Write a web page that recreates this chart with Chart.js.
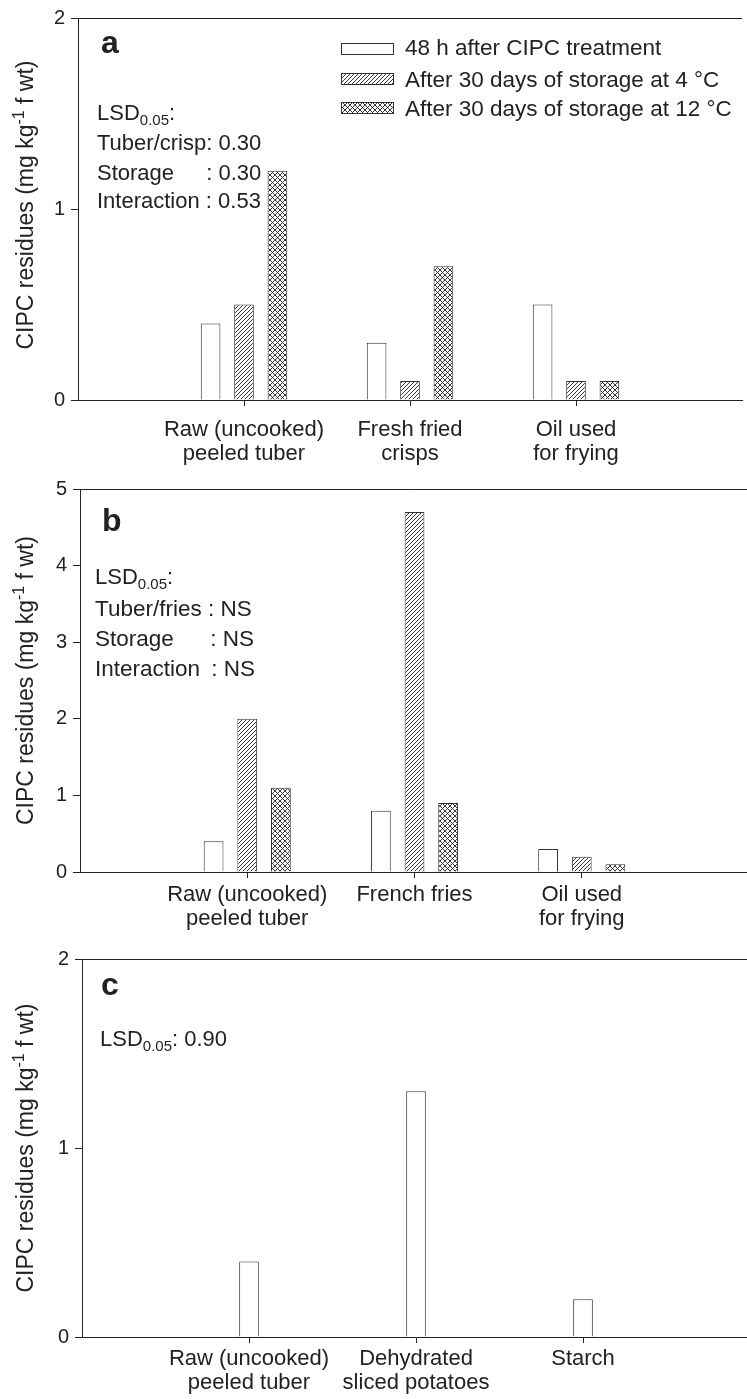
<!DOCTYPE html>
<html>
<head>
<meta charset="utf-8">
<script src="https://cdn.jsdelivr.net/npm/chart.js@4"></script>
<style>
  body { margin: 0; background: #fff; overflow: hidden; }
  .panel { position: relative; width: 754px; }
</style>
</head>
<body>
<div class="panel" style="height:466px"><canvas id="chartA"></canvas></div>
<div class="panel" style="height:467px"><canvas id="chartB"></canvas></div>
<div class="panel" style="height:466px"><canvas id="chartC"></canvas></div>
<script>
// categories per panel
var crispCats = [["Raw (uncooked)", "peeled tuber"], ["Fresh fried", "crisps"], ["Oil used", "for frying"]];
var friesCats = [["Raw (uncooked)", "peeled tuber"], "French fries", ["Oil used", "for frying"]];
var productCats = [["Raw (uncooked)", "peeled tuber"], ["Dehydrated", "sliced potatoes"], "Starch"];

var seriesNames = ["48 h after CIPC treatment", "After 30 days of storage at 4 \u00b0C", "After 30 days of storage at 12 \u00b0C"];

// panel a - crisps
var crisps48h = [0.4, 0.3, 0.5];
var crisps4C = [0.5, 0.1, 0.1];
var crisps12C = [1.2, 0.7, 0.1];
// panel b - french fries
var fries48h = [0.4, 0.8, 0.3];
var fries4C = [2.0, 4.7, 0.2];
var fries12C = [1.1, 0.9, 0.1];
// panel c - other products
var products48h = [0.4, 1.3, 0.2];

var yMaxA = 2, yMaxB = 5, yMaxC = 2;

var FONT = '"Liberation Sans", Arial, sans-serif';
var INK = "#222";

function makePattern(kind) {
  var size = kind === "hatch" ? 4 : 5;
  var c = document.createElement("canvas");
  c.width = size; c.height = size;
  var g = c.getContext("2d");
  g.fillStyle = "#fff";
  g.fillRect(0, 0, size, size);
  g.strokeStyle = "#222";
  g.lineWidth = 0.9;
  g.beginPath();
  g.moveTo(-1, size + 1); g.lineTo(size + 1, -1);
  g.moveTo(-1, 1); g.lineTo(1, -1);
  g.moveTo(size - 1, size + 1); g.lineTo(size + 1, size - 1);
  if (kind === "cross") {
    g.moveTo(-1, -1); g.lineTo(size + 1, size + 1);
    g.moveTo(size - 1, -1); g.lineTo(size + 1, 1);
    g.moveTo(-1, size - 1); g.lineTo(1, size + 1);
  }
  g.stroke();
  return g.createPattern(c, "repeat");
}

var fills = ["#fff", makePattern("hatch"), makePattern("cross")];

// empty slots at both ends so categories sit at 1, 2, 3 from the axis
function pad(arr) { return [null].concat(arr, [null]); }
function padLabels(arr) { return [""].concat(arr, [""]); }

function bars(label, values, i) {
  return {
    label: label,
    data: pad(values),
    backgroundColor: fills[i],
    borderColor: "#333",
    borderWidth: 1
  };
}

function txt(ctx, s, x, y, size, weight) {
  ctx.font = (weight || "normal") + " " + size + "px " + FONT;
  ctx.fillText(s, x, y);
  return ctx.measureText(s).width;
}

function txtRight(ctx, s, x, y, size) {
  ctx.textAlign = "right";
  txt(ctx, s, x, y, size);
  ctx.textAlign = "left";
}

function lsd(ctx, x, y, rest) {
  var w = txt(ctx, "LSD", x, y, 22);
  w += txt(ctx, "0.05", x + w, y + 5, 15);
  txt(ctx, rest, x + w, y, 22);
}

function yTitle(ctx, area, x, shift) {
  var parts = [["CIPC residues (mg kg", 23, 0], ["-1", 16, -9], [" f wt)", 23, 0]];
  var total = 0, i;
  for (i = 0; i < parts.length; i++) {
    ctx.font = parts[i][1] + "px " + FONT;
    total += ctx.measureText(parts[i][0]).width;
  }
  ctx.save();
  ctx.translate(x, (area.top + area.bottom) / 2 + shift);
  ctx.rotate(-Math.PI / 2);
  var cx = -total / 2;
  for (i = 0; i < parts.length; i++) {
    cx += txt(ctx, parts[i][0], cx, parts[i][2], parts[i][1]);
  }
  ctx.restore();
}

function decor(drawNotes, titleShift) {
  return {
    id: "decor",
    afterDraw: function (chart) {
      var ctx = chart.ctx, a = chart.chartArea;
      ctx.save();
      ctx.strokeStyle = INK;
      ctx.lineWidth = 1;
      ctx.beginPath();
      ctx.moveTo(a.left, Math.round(a.top) + 0.5);
      ctx.lineTo(a.right, Math.round(a.top) + 0.5);
      ctx.stroke();
      ctx.fillStyle = INK;
      ctx.textBaseline = "alphabetic";
      ctx.textAlign = "left";
      yTitle(ctx, a, 33, titleShift);
      drawNotes(ctx);
      ctx.restore();
    }
  };
}

function makeOptions(cfg) {
  return {
    responsive: true,
    maintainAspectRatio: false,
    animation: false,
    layout: { padding: { top: cfg.top, left: 0, right: 0, bottom: 0 } },
    plugins: { legend: { display: false }, tooltip: { enabled: false } },
    datasets: { bar: { barPercentage: 0.588, categoryPercentage: cfg.catPct } },
    scales: {
      x: {
        offset: false,
        grid: {
          offset: false,
          drawOnChartArea: false,
          tickLength: 6,
          color: function (c) { return (c.index === 0 || c.index === 4) ? "rgba(0,0,0,0)" : INK; }
        },
        border: { color: INK, width: 1 },
        ticks: {
          autoSkip: false, maxRotation: 0, minRotation: 0,
          padding: cfg.xPad, color: INK,
          font: { family: FONT, size: 22, lineHeight: 1.1 }
        },
        afterFit: function (s) { s.height = cfg.xHeight; }
      },
      y: {
        min: 0, max: cfg.yMax,
        ticks: { stepSize: 1, padding: 6, color: INK, font: { family: FONT, size: 20 } },
        grid: { drawOnChartArea: false, tickLength: 7, color: INK },
        border: { color: INK, width: 1 },
        afterFit: function (s) { s.width = cfg.yWidth; }
      }
    }
  };
}

// panel a
new Chart(document.getElementById("chartA").getContext("2d"), {
  type: "bar",
  data: {
    labels: padLabels(crispCats),
    datasets: [
      bars(seriesNames[0], crisps48h, 0),
      bars(seriesNames[1], crisps4C, 1),
      bars(seriesNames[2], crisps12C, 2)
    ]
  },
  options: makeOptions({ top: 15, xHeight: 66, xPad: 12, yWidth: 78, yMax: yMaxA, catPct: 0.6036 }),
  plugins: [decor(function (ctx) {
    txt(ctx, "a", 101, 53, 32, "bold");
    lsd(ctx, 97, 120, ":");
    var end = 97 + txt(ctx, "Tuber/crisp: 0.30", 97, 150, 22);
    txt(ctx, "Storage", 97, 180, 22);
    txtRight(ctx, ": 0.30", end, 180, 22);
    txt(ctx, "Interaction : 0.53", 97, 208, 22);
    var rows = [43, 73, 102], bases = [55, 87, 116];
    for (var i = 0; i < 3; i++) {
      ctx.fillStyle = fills[i];
      ctx.fillRect(341, rows[i], 52, 11);
      ctx.strokeStyle = "#333";
      ctx.strokeRect(341.5, rows[i] + 0.5, 52, 11);
      ctx.fillStyle = INK;
      txt(ctx, seriesNames[i], 405, bases[i], 22.5);
    }
  }, -4)]
});

// panel b
new Chart(document.getElementById("chartB").getContext("2d"), {
  type: "bar",
  data: {
    labels: padLabels(friesCats),
    datasets: [
      bars(seriesNames[0], fries48h, 0),
      bars(seriesNames[1], fries4C, 1),
      bars(seriesNames[2], fries12C, 2)
    ]
  },
  options: makeOptions({ top: 23, xHeight: 61, xPad: 5, yWidth: 80, yMax: yMaxB, catPct: 0.6036 }),
  plugins: [decor(function (ctx) {
    txt(ctx, "b", 102, 65, 32, "bold");
    lsd(ctx, 95, 118, ":");
    txt(ctx, "Tuber/fries : NS", 95, 150, 22.5);
    txt(ctx, "Storage", 95, 180, 22.5);
    txtRight(ctx, ": NS", 254, 180, 22.5);
    txt(ctx, "Interaction", 95, 210, 22.5);
    txtRight(ctx, ": NS", 255, 210, 22.5);
  }, 0)]
});

// panel c
new Chart(document.getElementById("chartC").getContext("2d"), {
  type: "bar",
  data: {
    labels: padLabels(productCats),
    datasets: [bars(seriesNames[0], products48h, 0)]
  },
  options: makeOptions({ top: 26, xHeight: 62, xPad: 4, yWidth: 82, yMax: yMaxC, catPct: 0.2 }),
  plugins: [decor(function (ctx) {
    txt(ctx, "c", 101, 62, 32, "bold");
    lsd(ctx, 100, 113, ": 0.90");
  }, 0)]
});
</script>
</body>
</html>
